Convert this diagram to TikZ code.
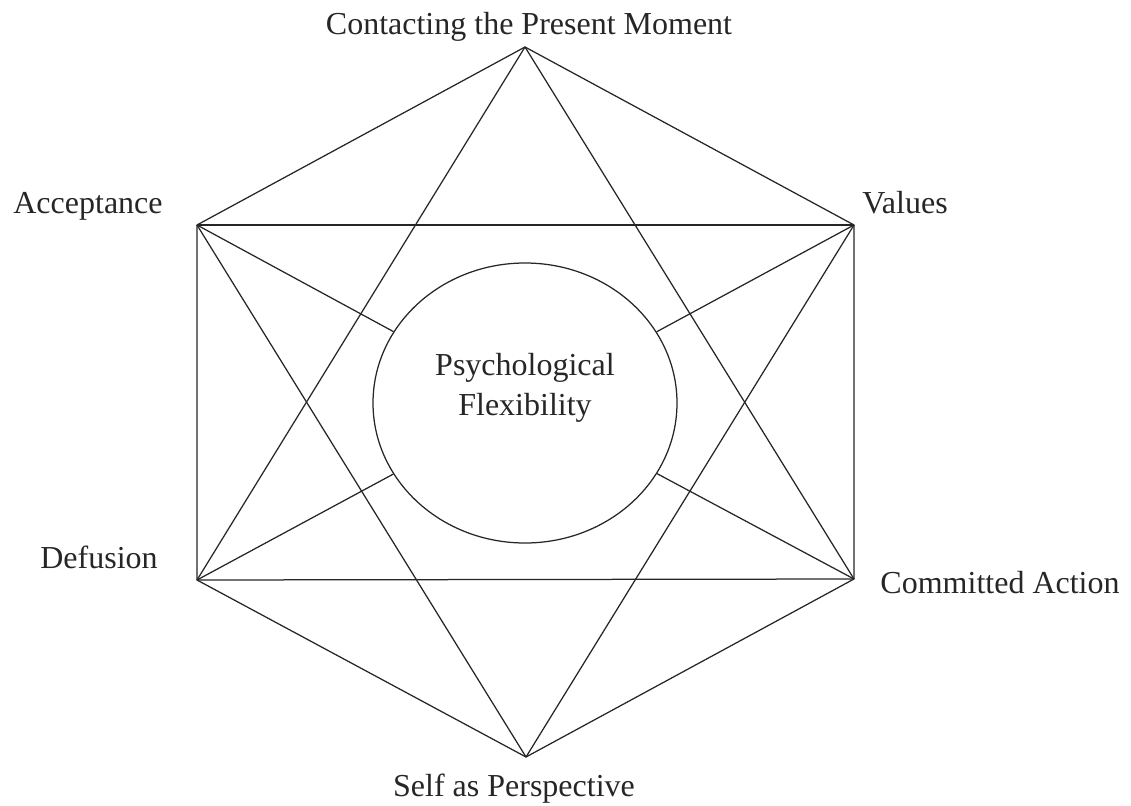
\documentclass[tikz,border=0pt]{standalone}
\usepackage{fontspec}
\setmainfont{Liberation Serif}
\usetikzlibrary{shapes.geometric}
\begin{document}
\begin{tikzpicture}[x=1pt,y=-1pt,
  edge/.style={draw=black!85,line width=1.25pt},
  lbl/.style={font=\fontsize{32}{38}\selectfont,text=black!85,anchor=base,inner sep=0pt}]
\useasboundingbox (0,0) rectangle (1131,805);
% vertices
\coordinate (T) at (525,47);
\coordinate (A) at (197,225);
\coordinate (V) at (854,225);
\coordinate (D) at (197,580);
\coordinate (C) at (854,579);
\coordinate (B) at (526,757);
% centre ellipse
\node[ellipse,draw=black!85,line width=1.25pt,minimum width=304pt,minimum height=280pt,inner sep=0pt] (PF) at (525,403) {};
\node[font=\fontsize{32}{38}\selectfont,text=black!85,inner sep=0pt,align=center] (PFt) at (525,388) {Psychological\\[2pt]Flexibility};
% labels
\node[lbl] (lT) at (529,35) {Contacting the Present Moment};
\node[lbl] (lA) at (88,213) {Acceptance};
\node[lbl] (lV) at (905,213) {Values};
\node[lbl] (lD) at (99,568) {Defusion};
\node[lbl] (lC) at (1000,593) {Committed Action};
\node[lbl] (lB) at (514,796) {Self as Perspective};
% hexagon
\draw[edge] (T) -- (V) -- (C) -- (B) -- (D) -- (A) -- cycle;
% horizontals
\draw[edge] (A) -- (V);
\draw[edge] (D) -- (C);
% triangles
\draw[edge] (T) -- (D);
\draw[edge] (T) -- (C);
\draw[edge] (B) -- (A);
\draw[edge] (B) -- (V);
% diagonals interrupted by the ellipse
\draw[edge] (A) -- (PF);
\draw[edge] (C) -- (PF);
\draw[edge] (V) -- (PF);
\draw[edge] (D) -- (PF);
\end{tikzpicture}
\end{document}
